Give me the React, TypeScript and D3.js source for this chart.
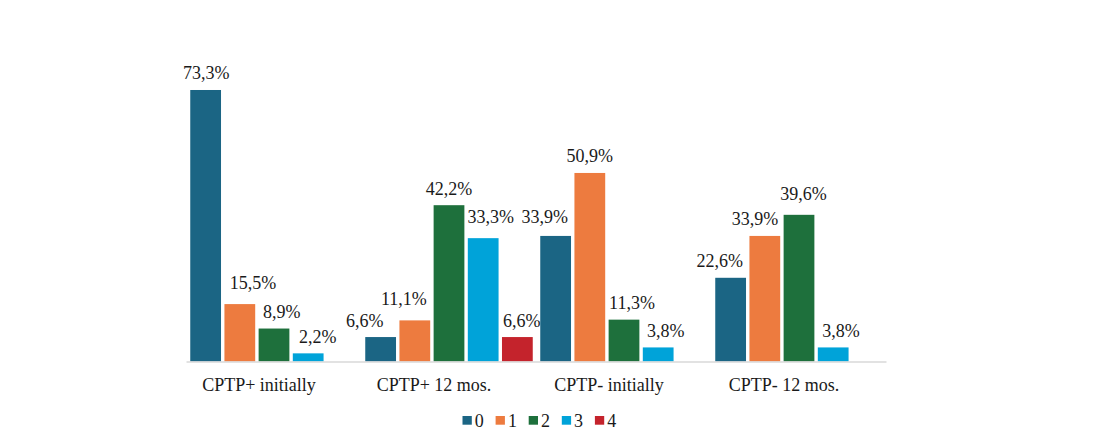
import React from "react";
import * as d3 from "d3";

const categories = ["CPTP+ initially", "CPTP+ 12 mos.", "CPTP- initially", "CPTP- 12 mos."];
const seriesNames = ["0", "1", "2", "3", "4"];
// values[series][category], null = no bar
const series0 = [73.3, 6.6, 33.9, 22.6];
const series1 = [15.5, 11.1, 50.9, 33.9];
const series2 = [8.9, 42.2, 11.3, 39.6];
const series3 = [2.2, 33.3, 3.8, 3.8];
const series4: (number | null)[] = [null, 6.6, null, null];
const seriesValues = [series0, series1, series2, series3, series4];
const colors = ["#1b6584", "#ed7b3f", "#1e703c", "#00a3d9", "#c4232c"];

// label nudges (pixels) per category/series, to mimic label placement of reference
const labelDx = [
  [0.5, 13.3, 7.7, 9.5, 0],
  [-16, -11, 0, 7.5, 4.5],
  [-11, 0, 8, 7.5, 0],
  [-11, -9.7, 4.6, 7.7, 0],
];
const labelDy = [
  [0, -5, 0, 0, 0],
  [0, -4.5, 0, -4.5, 0],
  [-2.5, 0, 0, 0, 0],
  [0, 0, -4, 0, 0],
];

const W = 1096;
const H = 437;
const FONT = "'Liberation Serif', 'Times New Roman', serif";

export default function App() {
  const x0 = d3.scaleBand<string>().domain(categories).range([186.5, 886.5]).padding(0);
  const x1 = d3
    .scaleBand<string>()
    .domain(seriesNames)
    .range([3.75, x0.bandwidth() - 3.75])
    .paddingInner(0.1)
    .paddingOuter(0);
  const y = d3.scaleLinear().domain([0, 80]).range([361.5, 361.5 - 80 * 3.704]);
  const fmt = (v: number) => d3.format(".1f")(v).replace(".", ",") + "%";

  const legendX = d3.scaleBand<string>().domain(seriesNames).range([462.5, 628]);

  return (
    <svg
      width={W}
      height={H}
      style={{ position: "absolute", left: 0, top: 0, background: "#fff" }}
      fontFamily={FONT}
    >
      <rect width={W} height={H} fill="#fff" />
      {categories.map((c, ci) => (
        <g key={c} transform={`translate(${x0(c)},0)`}>
          {seriesNames.map((s, si) => {
            const v = seriesValues[si][ci];
            if (v == null) return null;
            const bx = x1(s)!;
            const bw = x1.bandwidth();
            return (
              <g key={s}>
                <rect x={bx} y={y(v)} width={bw} height={y(0) - y(v)} fill={colors[si]} />
                <text
                  x={bx + bw / 2 + labelDx[ci][si]}
                  y={y(v) - 10.5 + labelDy[ci][si]}
                  textAnchor="middle"
                  fontSize={18}
                  fill="#1a1a1a"
                >
                  {fmt(v)}
                </text>
              </g>
            );
          })}
          <text
            x={x0.bandwidth() / 2 - 15}
            y={391}
            textAnchor="middle"
            fontSize={18}
            fill="#1a1a1a"
          >
            {c}
          </text>
        </g>
      ))}
      <line x1={186.5} x2={886.5} y1={362} y2={362} stroke="#d9d9d9" strokeWidth={1.5} />
      {seriesNames.map((s, si) => (
        <g key={s} transform={`translate(${legendX(s)},0)`}>
          <rect x={0} y={416} width={9.3} height={8.7} fill={colors[si]} />
          <text x={12.3} y={426.5} fontSize={18} fill="#1a1a1a">
            {s}
          </text>
        </g>
      ))}
    </svg>
  );
}
